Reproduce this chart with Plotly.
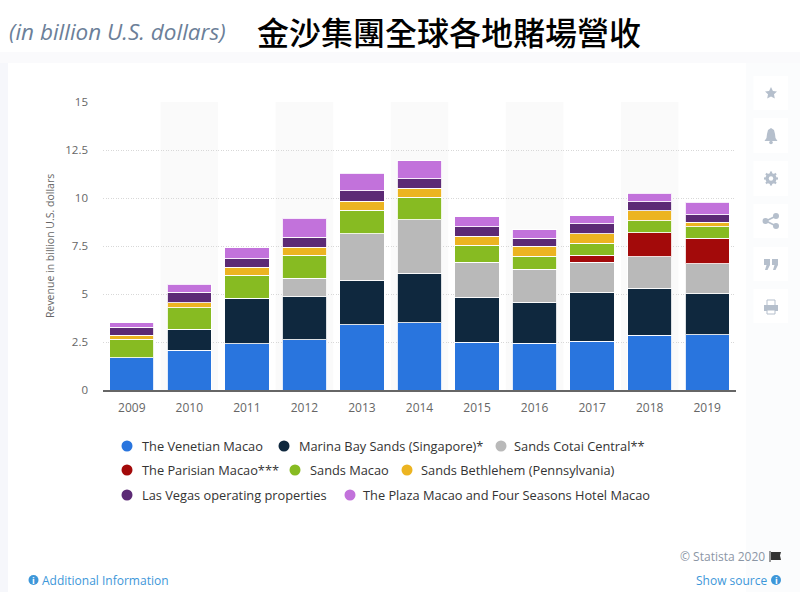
import plotly.graph_objects as go

years = ["2009","2010","2011","2012","2013","2014","2015","2016","2017","2018","2019"]
venetian = [1.68,2.08,2.40,2.62,3.39,3.51,2.48,2.43,2.55,2.85,2.88]
marina = [0,1.08,2.38,2.24,2.33,2.57,2.34,2.15,2.53,2.45,2.14]
cotai = [0,0,0,0.95,2.43,2.80,1.84,1.72,1.58,1.63,1.55]
parisian = [0,0,0,0,0,0,0,0,0.35,1.25,1.34]
sands_macao = [0.97,1.13,1.20,1.20,1.20,1.15,0.89,0.66,0.64,0.64,0.59]
bethlehem = [0.19,0.26,0.42,0.43,0.47,0.47,0.47,0.54,0.50,0.52,0.23]
las_vegas = [0.43,0.54,0.43,0.52,0.57,0.50,0.49,0.40,0.50,0.47,0.40]
plaza = [0.23,0.43,0.59,0.99,0.90,0.94,0.52,0.45,0.42,0.43,0.66]

series_names = ["The Venetian Macao","Marina Bay Sands (Singapore)*","Sands Cotai Central**",
                "The Parisian Macao***","Sands Macao","Sands Bethlehem (Pennsylvania)",
                "Las Vegas operating properties","The Plaza Macao and Four Seasons Hotel Macao"]
series_values = [venetian,marina,cotai,parisian,sands_macao,bethlehem,las_vegas,plaza]
series_colors = ["#2975de","#0f283e","#b9b9b9","#a30a0a","#87bb22","#ecb421","#5c2a75","#c272db"]
y_ticks = [0,2.5,5,7.5,10,12.5,15]

W, H = 800, 592
px = lambda x: x / W
py = lambda y: 1 - y / H
FONT = "Open Sans, sans-serif"

fig = go.Figure()
for name, vals, col in zip(series_names, series_values, series_colors):
    fig.add_bar(x=years, y=vals, name=name, showlegend=False,
                marker=dict(color=col, line=dict(color="rgba(255,255,255,0.85)", width=1)))

shapes, ann = [], []

def rect(x0, y0, x1, y1, fill, line=None, layer="below"):
    shapes.append(dict(type="rect", xref="paper", yref="paper", x0=px(x0), x1=px(x1), y0=py(y0), y1=py(y1),
                       fillcolor=fill, line=dict(width=0 if line is None else 1, color=line or fill), layer=layer))

def poly(points, fill, layer="above", close=True, width=0, line=None):
    d = "M" + " L".join(f"{px(a):.5f},{py(b):.5f}" for a, b in points) + (" Z" if close else "")
    shapes.append(dict(type="path", xref="paper", yref="paper", path=d, fillcolor=fill if close else "rgba(0,0,0,0)",
                       line=dict(width=width, color=line or fill), layer=layer))

def circ(cx, cy, r, fill, layer="above"):
    shapes.append(dict(type="circle", xref="paper", yref="paper", x0=px(cx-r), x1=px(cx+r), y0=py(cy-r), y1=py(cy+r),
                       fillcolor=fill, line=dict(width=0), layer=layer))

def text(x, y, s, size, color, anchor="left", **font):
    ann.append(dict(xref="paper", yref="paper", x=px(x), y=py(y), text=s, showarrow=False, xanchor=anchor,
                    yanchor="middle", font=dict(family=font.pop("family", FONT), size=size, color=color, **font),
                    borderpad=0, borderwidth=0))

# page background and card
rect(0, 52, 800, 63, "#fafafc")
rect(0, 63, 8, 592, "#f6f7fb")
rect(8, 63, 746, 592, "#ffffff")
rect(746, 63, 800, 592, "#fbfcfd")

# alternating column bands
for i in range(1, len(years), 2):
    shapes.append(dict(type="rect", xref="x", yref="y", x0=i-0.5, x1=i+0.5, y0=0, y1=15,
                       fillcolor="#fafafa", line=dict(width=0), layer="below"))

# side buttons
ICON = "#b5bfcc"
for top, bot in [(76,110),(118,153),(161,196),(204,238),(247,281),(289,323)]:
    rect(753.5, top, 788, bot, "#ffffff")
# star
poly([(771,87),(772.9,91),(777,91.5),(774,94.3),(774.8,98.5),(771,96.4),(767.2,98.5),(768,94.3),(765,91.5),(769.1,91)], ICON)
# bell
poly([(771,128),(774,130),(775,134),(775.5,138),(777.5,141),(764.5,141),(766.5,138),(767,134),(768,130)], ICON)
circ(771, 142.5, 1.8, ICON)
# gear
for a, b in [((771,171.5),(771,185.5)),((764,178.5),(778,178.5)),((766,173.5),(776,183.5)),((766,183.5),(776,173.5))]:
    poly([a, b], ICON, close=False, width=2.2)
circ(771, 178.5, 5.5, ICON)
circ(771, 178.5, 2.2, "#ffffff")
# share
poly([(766,221),(776,216)], ICON, close=False, width=1.6)
poly([(766,221),(776,226)], ICON, close=False, width=1.6)
circ(765.5, 221, 3, ICON); circ(776, 216, 3, ICON); circ(776, 226, 3, ICON)
# quote
for x0 in (764, 772):
    poly([(x0,259),(x0+6,259),(x0+6,265),(x0+3.5,270),(x0+1,270),(x0+2.5,265),(x0,265)], ICON)
# printer
rect(767, 300, 775, 306, "#ffffff", ICON, "above")
rect(764, 305, 778, 311, ICON, None, "above")
rect(767, 310, 775, 314, "#ffffff", ICON, "above")

# legend rows
legend_layout = [(127,446,142),(284,446,299),(501,446,514),
                 (127,470,142),(295,470,310),(407,470,421),
                 (127,495,142),(350,495,363)]
for (cx, cy, tx), name, col in zip(legend_layout, series_names, series_colors):
    circ(cx, cy, 5.5, col)
    text(tx, cy, name, 12.8, "#333333")

# titles
text(9, 31, "(in billion U.S. dollars)", 22.5, "#6c7f99", style="italic")
text(449, 31, "金沙集團全球各地賭場營收", 32, "#000000", anchor="center", family="Noto Sans CJK TC, sans-serif", weight=500)

# axis title
ann.append(dict(xref="paper", yref="paper", x=px(50), y=py(246), text="Revenue in billion U.S. dollars", textangle=-90,
                showarrow=False, xanchor="center", yanchor="middle", font=dict(family=FONT, size=10.5, color="#666666")))

# footer
text(765, 556, "© Statista 2020", 12, "#8b96a5", anchor="right")
poly([(771,552),(781,552),(780,555.5),(781,560),(771,560)], "#333333")
poly([(770,551),(770,562)], "#333333", close=False, width=1)
text(42, 580, "Additional Information", 12, "#3d97d9")
circ(33.5, 580, 5, "#3d97d9")
text(33.5, 580, "<b>i</b>", 9, "#ffffff", anchor="center")
text(768, 580, "Show source", 12, "#3d97d9", anchor="right")
circ(776, 580, 5, "#3d97d9")
text(776, 580, "<b>i</b>", 9, "#ffffff", anchor="center")

fig.update_layout(
    width=W, height=H, autosize=False, barmode="stack", bargap=0.23,
    margin=dict(l=0, r=0, t=0, b=0, pad=0, autoexpand=False), paper_bgcolor="#ffffff", plot_bgcolor="rgba(0,0,0,0)",
    showlegend=False, shapes=shapes, annotations=ann, font=dict(family=FONT),
    xaxis=dict(domain=[103/W, 736/W], type="category", tickfont=dict(size=12, color="#666666"), ticklabelstandoff=6,
               showgrid=False, showline=True, linecolor="#666666", linewidth=1.5, ticks="", anchor="y", automargin=False),
    yaxis=dict(domain=[1-390/H, 1-102/H], range=[0,15], tickvals=y_ticks, ticktext=[f"{v:g}" for v in y_ticks],
               tickfont=dict(size=11.5, color="#666666"), ticklabelstandoff=14,
               showgrid=True, gridcolor="#d8d8d8", griddash="1px,1.5px", gridwidth=1,
               zeroline=False, showline=False, ticks="", anchor="x", automargin=False),
)
fig.write_html("out.html", config=dict(displayModeBar=False), post_script="document.body.style.margin='0';")
